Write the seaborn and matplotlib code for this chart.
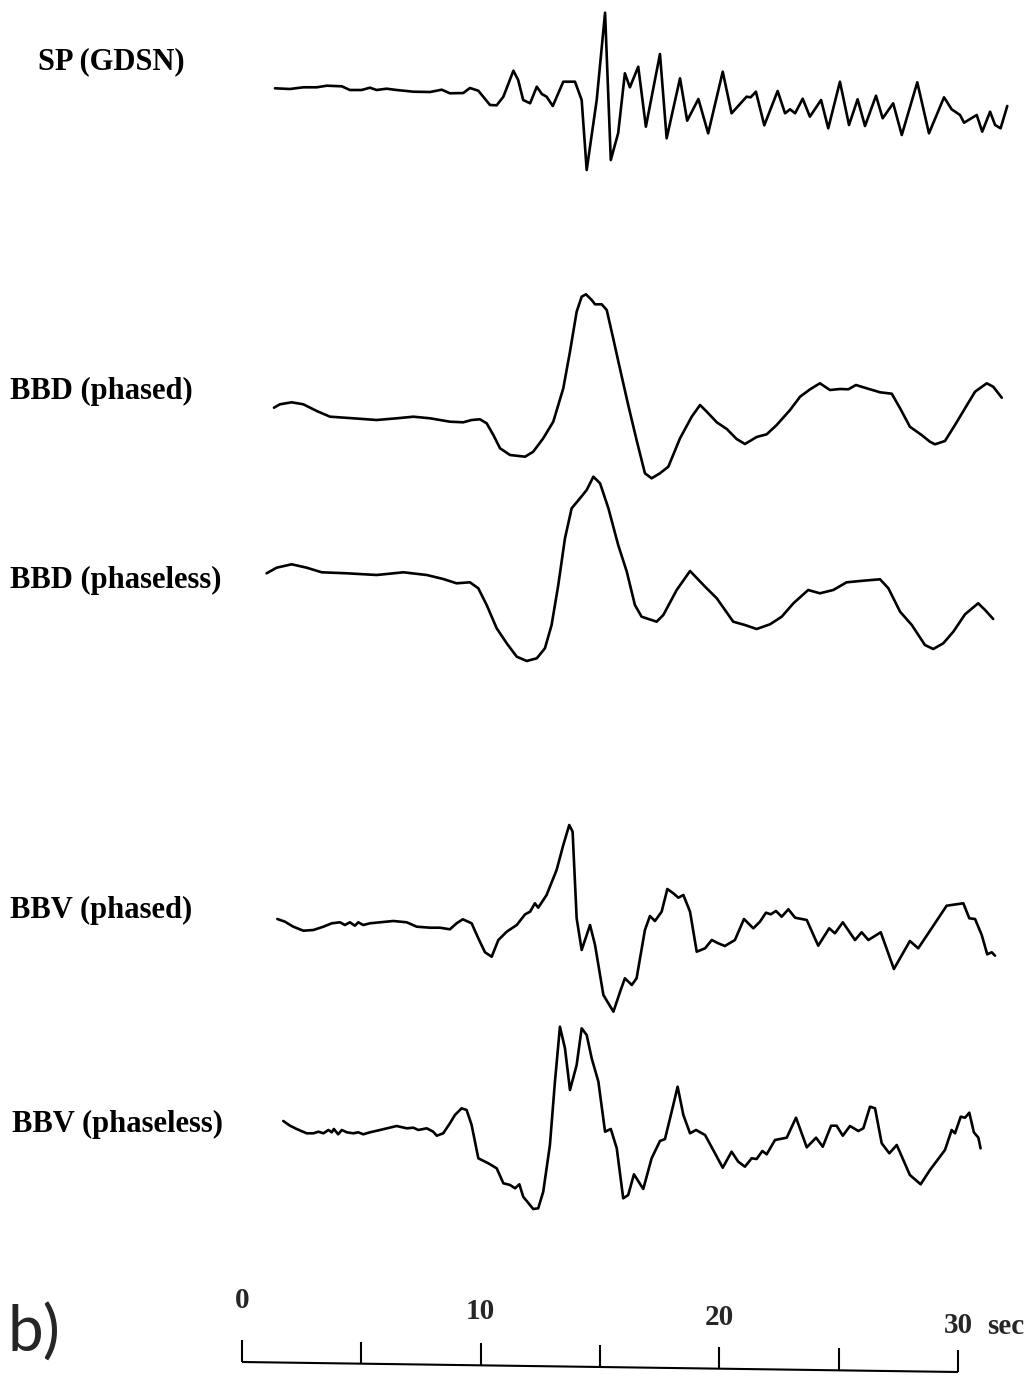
import numpy as np
import pandas as pd
import matplotlib
matplotlib.use("Agg")
import matplotlib.pyplot as plt
import seaborn as sns

sns.set_theme(style="white")
plt.rcParams['font.family'] = ['Liberation Serif', 'DejaVu Serif']

# ---------------- data (time in s, amplitude in arbitrary units) ----------------
trace_names = ["SP (GDSN)", "BBD (phased)", "BBD (phaseless)", "BBV (phased)", "BBV (phaseless)"]

sp_time = [1.38, 2.01, 2.57, 3.13, 3.55, 4.18, 4.52, 5.01, 5.36, 5.64,
           6.06, 6.48, 7.18, 7.88, 8.37, 8.71, 9.27, 9.55, 9.90, 10.39,
           10.67, 10.95, 11.37, 11.57, 11.78, 12.07, 12.35, 12.56, 12.76, 13.02,
           13.46, 13.74, 13.95, 14.23, 14.44, 14.86, 15.21, 15.45, 15.76, 16.04,
           16.25, 16.60, 16.92, 17.51, 17.79, 18.35, 18.65, 19.12, 19.53, 20.14,
           20.51, 21.14, 21.31, 21.53, 21.88, 22.44, 22.75, 22.96, 23.17, 23.49,
           23.79, 24.26, 24.56, 25.05, 25.43, 25.79, 26.10, 26.56, 26.84, 27.28,
           27.64, 28.29, 28.78, 29.41, 29.73, 30.08, 30.25, 30.78, 31.01, 31.34,
           31.55, 31.78, 32.06]
sp_amp = [-0.3, -1, 0.7, 0.7, 2.3, 1.7, -2, -2, 0.3, -2,
          -0.7, -2, -3.7, -4, -1.7, -5.3, -5, 0, -2.7, -17,
          -17.3, -8.7, 17.3, 8, -12, -15.3, 1.3, -6, -8.7, -18,
          6.3, 6.3, 6.3, -12, -82, -12, 75.3, -72, -45, 14.7,
          0.7, 21.3, -38.7, 34, -50.3, 9.7, -32.7, -11, -45.3, 16.3,
          -25.3, -8.7, -9.3, -3.7, -37.3, -3, -25.3, -21.3, -25.3, -10.7,
          -28.7, -12, -40.3, 6.3, -37, -11.3, -38, -7.7, -30.3, -15.3,
          -47, 5.7, -45.3, -9.3, -21.3, -27, -34.7, -27, -43.7, -23.7,
          -37, -40.3, -18]

bbd_phased_time = [1.34, 1.59, 2.08, 2.57, 3.13, 3.69, 4.66, 5.64, 6.48, 7.18,
                   7.88, 8.71, 9.27, 9.62, 9.97, 10.25, 10.53, 10.81, 11.23, 11.86,
                   12.20, 12.62, 13.04, 13.46, 13.74, 14.02, 14.23, 14.41, 14.65, 14.79,
                   15.07, 15.28, 15.55, 15.83, 16.18, 16.53, 16.88, 17.16, 17.51, 17.86,
                   18.35, 18.84, 19.19, 19.47, 19.89, 20.31, 20.72, 21.07, 21.56, 21.98,
                   22.40, 22.96, 23.38, 23.80, 24.21, 24.63, 25.05, 25.40, 25.72, 26.17,
                   26.73, 27.22, 27.57, 27.98, 28.47, 28.82, 29.03, 29.45, 29.87, 30.29,
                   30.71, 31.20, 31.47, 31.83]
bbd_phased_amp = [11.3, 14.7, 16.7, 14.7, 8, 2.3, 0.7, -1, 0.7, 2.3,
                  0.7, -2.7, -3.3, -1, -0.3, -4.3, -16, -29.3, -36, -37.7,
                  -32.7, -19.3, -2.7, 30.7, 67.3, 107.3, 122.3, 124.7, 119, 114.7,
                  114.7, 109, 80.7, 50.7, 14, -21, -54.3, -59.3, -54.3, -47.7,
                  -19.3, 2.3, 14, 7.3, -3.3, -10, -20, -25, -18, -15.3,
                  -6, 9, 22.3, 29.7, 35.7, 29, 30, 29.7, 34, 30.7,
                  26.7, 25.3, 10.7, -7.7, -16, -22.7, -25.3, -22, -6, 10.7,
                  27.3, 35.7, 32.3, 21.3]

bbd_phaseless_time = [1.03, 1.45, 2.08, 2.71, 3.34, 4.39, 5.64, 6.76, 7.74, 8.43,
                      8.99, 9.55, 9.90, 10.25, 10.67, 11.09, 11.51, 11.93, 12.35, 12.69,
                      12.97, 13.25, 13.53, 13.81, 14.16, 14.44, 14.72, 15.00, 15.35, 15.76,
                      16.12, 16.46, 16.74, 17.37, 17.65, 18.21, 18.77, 19.40, 19.89, 20.58,
                      21.07, 21.56, 22.12, 22.61, 23.10, 23.72, 24.21, 24.77, 25.33, 26.03,
                      26.73, 27.08, 27.57, 28.06, 28.61, 28.96, 29.38, 29.80, 30.29, 30.84,
                      31.13, 31.47]
bbd_phaseless_amp = [0.7, 6.3, 9.7, 6.3, 1.7, 0.7, -1, 1.7, -1, -5,
                     -9.3, -8.3, -14.3, -31, -54.3, -69.3, -82.7, -87, -84.3, -74.3,
                     -51, -11, 35.7, 65.7, 75.7, 84, 97.3, 90.7, 65.7, 29,
                     2.3, -31, -42.7, -47.7, -41, -16, 3, -12.7, -24.3, -47.7,
                     -51, -55, -50.3, -42.7, -29.3, -16, -19.3, -16, -8.3, -6.7,
                     -5.3, -14.3, -37.7, -51, -71, -75, -69.3, -57.7, -40.3, -29.3,
                     -36, -45]

bbv_phased_time = [1.48, 1.80, 2.15, 2.57, 2.99, 3.41, 3.76, 4.11, 4.31, 4.52,
                   4.73, 4.87, 5.08, 5.36, 5.78, 6.34, 6.90, 7.32, 7.88, 8.29,
                   8.71, 8.99, 9.25, 9.62, 9.90, 10.18, 10.46, 10.74, 11.09, 11.51,
                   11.86, 12.07, 12.27, 12.41, 12.76, 13.18, 13.46, 13.71, 13.85, 14.02,
                   14.23, 14.58, 14.79, 15.14, 15.56, 15.84, 16.04, 16.33, 16.53, 16.88,
                   17.09, 17.30, 17.58, 17.82, 18.07, 18.28, 18.49, 18.77, 19.05, 19.40,
                   19.68, 19.95, 20.23, 20.65, 21.03, 21.42, 21.70, 21.95, 22.15, 22.37,
                   22.61, 22.89, 23.17, 23.66, 24.14, 24.60, 24.84, 25.17, 25.68, 25.96,
                   26.24, 26.76, 27.31, 27.98, 28.33, 28.89, 29.52, 30.22, 30.47, 30.71,
                   30.99, 31.22, 31.41, 31.55]
bbv_phased_amp = [6, 3.3, -1.7, -5.7, -5, -1.7, 1.7, 2.7, 0, 2.7,
                  -0.7, 2.7, 0, 1.7, 2.7, 4, 2.7, -1.7, -2.7, -2.7,
                  -4.3, 1.7, 5.7, 1.7, -13.3, -27.3, -31.7, -15, -6.7, 0,
                  10.7, 13.3, 21.7, 17.3, 30, 55, 80, 100, 93.3, 6.7,
                  -25, 0, -20, -70, -86.7, -66.7, -53.3, -60, -53.3, -5,
                  9, 4, 13.3, 36, 31.7, 27.3, 30, 13.3, -26.7, -23.3,
                  -15, -18.3, -21, -15, 6, -3.3, 3.3, 12.3, 10.7, 14,
                  8.3, 15.7, 7.3, 5, -20.7, -3.3, -8.3, 2.7, -15, -7.3,
                  -15, -7.3, -44, -16, -23.3, -3.3, 19.3, 21.7, 6.7, 6,
                  -10, -29.3, -27.3, -30.7]

bbv_phaseless_time = [1.73, 2.01, 2.29, 2.71, 2.99, 3.20, 3.41, 3.62, 3.76, 3.85,
                      4.03, 4.18, 4.39, 4.66, 4.87, 5.08, 5.36, 5.78, 6.48, 6.90,
                      7.18, 7.39, 7.74, 8.01, 8.16, 8.43, 8.71, 8.92, 9.20, 9.41,
                      9.62, 9.90, 10.32, 10.67, 10.95, 11.23, 11.44, 11.62, 11.78, 12.20,
                      12.41, 12.62, 12.90, 13.11, 13.32, 13.53, 13.74, 14.02, 14.23, 14.44,
                      14.65, 14.93, 15.21, 15.45, 15.70, 15.97, 16.18, 16.42, 16.81, 17.16,
                      17.51, 17.72, 18.00, 18.25, 18.49, 18.77, 19.02, 19.40, 19.74, 20.14,
                      20.51, 20.79, 21.07, 21.35, 21.56, 21.80, 21.98, 22.33, 22.82, 23.21,
                      23.66, 24.05, 24.33, 24.68, 24.91, 25.17, 25.47, 25.82, 26.03, 26.31,
                      26.52, 26.80, 27.12, 27.43, 27.98, 28.43, 28.82, 29.45, 29.73, 29.87,
                      30.11, 30.29, 30.47, 30.66, 30.85, 30.94]
bbv_phaseless_amp = [10, 5.3, 2, -2.3, -2.3, -0.7, -2.3, 1, -1.3, 2,
                     -3.3, 1, -1.3, -2.3, -1.3, -3.3, -1.3, 1, 5, 2.7,
                     3.3, 1, 2.7, -0.7, -4.7, -2.3, 7.7, 16, 22.7, 21,
                     6, -27.3, -32.3, -37.3, -52.3, -54, -57.3, -53.3, -65.7, -78,
                     -77.3, -60.7, -14, 49.3, 104.3, 82.7, 41, 66, 102.7, 96,
                     72.7, 49.3, -0.7, 2, -17.3, -67.3, -64, -43.3, -58, -27.3,
                     -10, -8, 19.3, 44.3, 16, -2.3, 1, -4, -19, -36.7,
                     -20.7, -30.7, -35.7, -27.3, -28, -20, -23.3, -9, -6.7, 13.3,
                     -16.3, -6.7, -15.7, 5.3, 5.3, -4.7, 5, 0, 2.7, 24.3,
                     22.7, -12.3, -22.3, -14, -44, -53.3, -39, -19, 1, -2.3,
                     14.3, 13.3, 18.3, -1.3, -6.7, -17.3]

scale_ticks = [0, 5, 10, 15, 20, 25, 30]
scale_labels = ["0", "10", "20", "30"]
scale_label_times = [0, 10, 20, 30]
scale_unit = "sec"
panel_label = "b)"

series = [(sp_time, sp_amp), (bbd_phased_time, bbd_phased_amp),
          (bbd_phaseless_time, bbd_phaseless_amp), (bbv_phased_time, bbv_phased_amp),
          (bbv_phaseless_time, bbv_phaseless_amp)]
frames = []
for name, (t, a) in zip(trace_names, series):
    frames.append(pd.DataFrame({"time": t, "amplitude": a, "trace": name}))
df = pd.concat(frames, ignore_index=True)

# ---------------- layout ----------------
W, H = 1030, 1379
X0 = 242.0      # pixel of t = 0
PXS = 23.87     # pixels per second
XLIM = (-X0 / PXS, (W - X0) / PXS)
fig = plt.figure(figsize=(W / 100, H / 100), dpi=100)
fig.patch.set_facecolor("white")

# (top px, bottom px, baseline px) of each trace band, and label position
bands = [(0, 200, 88), (280, 490, 419), (460, 680, 574), (810, 1020, 925), (1010, 1230, 1131)]
label_pos = [(38, 62), (10, 391), (10, 580), (10, 910), (12, 1124)]

for name, (top, bot, base), (lx, ly) in zip(trace_names, bands, label_pos):
    ax = fig.add_axes([0, 1 - bot / H, 1, (bot - top) / H])
    ax.patch.set_alpha(0)
    sns.lineplot(data=df[df.trace == name], x="time", y="amplitude", ax=ax,
                 color="black", linewidth=1.9, estimator=None, sort=False,
                 legend=False)
    for ln in ax.get_lines():
        ln.set_solid_joinstyle("round")
        ln.set_solid_capstyle("round")
    ax.set_xlim(*XLIM)
    ax.set_ylim(base - bot, base - top)
    ax.axis("off")
    fig.text(lx / W, 1 - ly / H, name, fontsize=22, fontweight="bold",
             ha="left", va="center", color="black")

# ---------------- time scale bar (slightly tilted as in the scan) ----------------
sax = fig.add_axes([0, 0, 1, (H - 1280) / H])
sax.patch.set_alpha(0)
sax.set_xlim(*XLIM)
sax.set_ylim(H, 1280)   # pixel-like vertical units, downward


def bar_y(t):
    return 1362 + 10 * t / 30.0


tick_arr = np.array(scale_ticks, dtype=float)
sax.plot([tick_arr[0], tick_arr[-1]], [bar_y(tick_arr[0]), bar_y(tick_arr[-1])],
         color="black", lw=1.5, solid_capstyle="butt")
sax.vlines(tick_arr, bar_y(tick_arr), bar_y(tick_arr) - 22, color="black", lw=1.5)
label_y = [1301, 1312, 1318, 1326]
for t, lab, ly in zip(scale_label_times, scale_labels, label_y):
    sax.text(t, ly, lab, fontsize=21, fontweight="bold", ha="center", va="center")
sax.text((1006 - X0) / PXS, 1327, scale_unit, fontsize=21, fontweight="bold",
         ha="center", va="center")
sax.axis("off")

fig.text(8 / W, 1 - 1333 / H, panel_label, fontsize=46, family=["Lato", "DejaVu Sans"],
         ha="left", va="center")

fig.savefig("out.png", dpi=100, facecolor="white")
